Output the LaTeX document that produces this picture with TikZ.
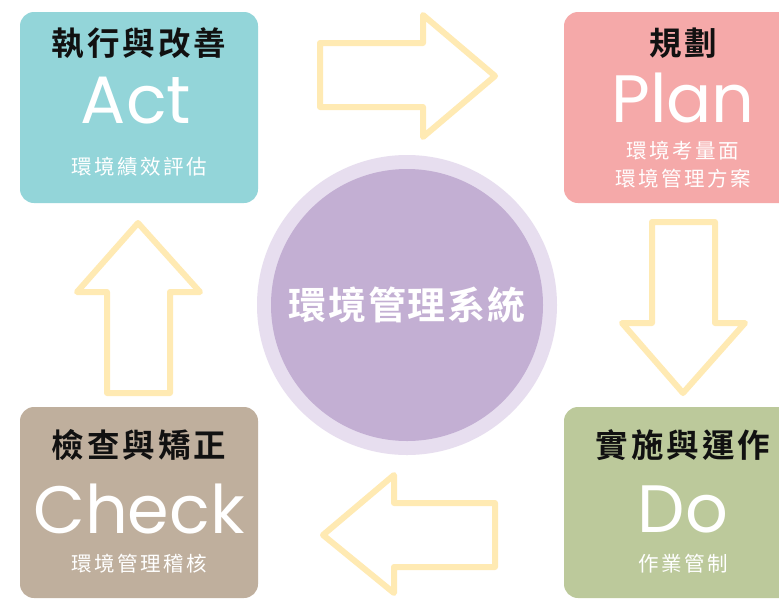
\documentclass[tikz,border=0pt]{standalone}
\usepackage{fontspec}
\newfontfamily\cjktitle{Noto Sans CJK TC}[BoldFont=* Bold, LetterSpace=9]
\newfontfamily\cjksub{Noto Sans CJK TC}[LetterSpace=12]
\newfontfamily\cjkmid{Noto Sans CJK TC}[BoldFont=* Bold, LetterSpace=5]
\newfontfamily\lat{Poppins}
\definecolor{actc}{HTML}{93D5D9}
\definecolor{planc}{HTML}{F5A9A9}
\definecolor{checkc}{HTML}{BFAF9D}
\definecolor{doc}{HTML}{BCC99B}
\definecolor{ringc}{HTML}{E7DEEF}
\definecolor{corec}{HTML}{C3AFD3}
\definecolor{arrowc}{HTML}{FFEAB3}
\definecolor{titlec}{HTML}{111111}
\begin{document}
\begin{tikzpicture}[x=1pt,y=-1pt,
  box/.style={rounded corners=14pt, minimum width=238pt, minimum height=191pt, inner sep=0pt, draw=none},
  fat/.style={draw=arrowc, line width=6pt, line join=round, fill=white},
  ttl/.style={text=titlec, font=\cjktitle\bfseries\fontsize{32.5}{32.5}\selectfont, inner sep=0pt},
  big/.style={text=white, font=\lat\fontsize{67}{67}\selectfont, inner sep=0pt, anchor=base, text depth=0pt, text height=48pt},
  sub/.style={text=white, font=\cjksub\fontsize{20.5}{20.5}\selectfont, inner sep=0pt, text height=15pt, text depth=2pt}]
\useasboundingbox (0,0) rectangle (779,598);
\clip (0,0) rectangle (779,598);
\fill[white] (0,0) rectangle (779,598);
% boxes
\node[box, fill=actc] (act) at (139,107.5) {};
\node[box, fill=planc] (plan) at (683,107.5) {};
\node[box, fill=checkc] (check) at (139,502.5) {};
\node[box, fill=doc] (do) at (683,502.5) {};
% centre circle
\node[circle, fill=ringc, minimum size=300pt, inner sep=0pt] (ring) at (407,305) {};
\node[circle, fill=corec, minimum size=272pt, inner sep=0pt, text=white,
  font=\cjkmid\bfseries\fontsize{38}{38}\selectfont] (core) at (407,305) {環境管理系統};
% texts
\node[ttl] (acttitle) at (139,43) {執行與改善};
\node[big] (actbig) at (136,123) {Act};
\node[sub] (actsub) at (139,168) {環境績效評估};
\node[ttl] (plantitle) at (683,43) {規劃};
\node[big] (planbig) at (683,122) {Plan};
\node[sub] (plansub1) at (683,152) {環境考量面};
\node[sub] (plansub2) at (683,180) {環境管理方案};
\node[ttl] (checktitle) at (139,445) {檢查與矯正};
\node[big] (checkbig) at (139,533) {Check};
\node[sub] (checksub) at (139,565) {環境管理稽核};
\node[ttl] (dotitle) at (683,445) {實施與運作};
\node[big] (dobig) at (683,532) {Do};
\node[sub] (dosub) at (683,565) {作業管制};
% arrows
\draw[fat] (320,43) -- (423,43) -- (423,15) -- (495,76) -- (423,137) -- (423,107) -- (320,107) -- cycle;
\draw[fat] (652,222) -- (715,222) -- (715,323) -- (745,323) -- (683,393) -- (622,323) -- (652,323) -- cycle;
\draw[fat] (495,503) -- (394,503) -- (394,475) -- (323,535) -- (394,593) -- (394,567) -- (495,567) -- cycle;
\draw[fat] (107,393) -- (107,292) -- (77,292) -- (138,223) -- (200,292) -- (170,292) -- (170,393) -- cycle;
\end{tikzpicture}
\end{document}
